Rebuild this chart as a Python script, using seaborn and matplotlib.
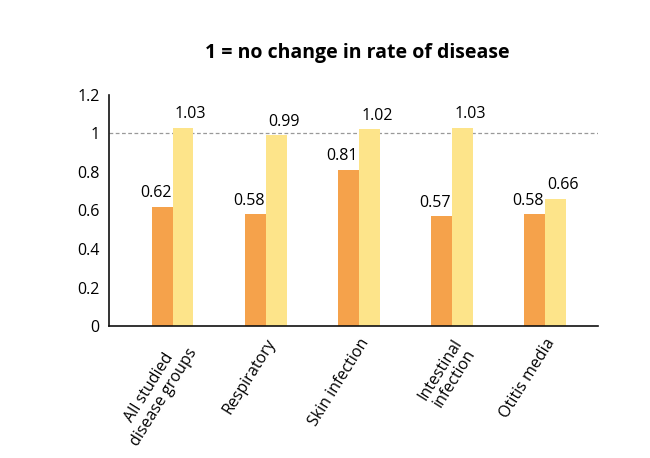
import matplotlib
matplotlib.use("Agg")
import matplotlib.pyplot as plt
import seaborn as sns
import pandas as pd

categories = ["All studied\ndisease groups", "Respiratory", "Skin infection",
              "Intestinal\ninfection", "Otitis media"]
series_a = [0.62, 0.58, 0.81, 0.57, 0.58]
series_b = [1.03, 0.99, 1.02, 1.03, 0.66]
series_names = ["Series A", "Series B"]
y_ticks = [0, 0.2, 0.4, 0.6, 0.8, 1, 1.2]
y_tick_labels = ["0", "0.2", "0.4", "0.6", "0.8", "1", "1.2"]
title = "1 = no change in rate of disease"

df = pd.DataFrame({
    "category": categories * 2,
    "value": series_a + series_b,
    "series": [series_names[0]] * len(categories) + [series_names[1]] * len(categories),
})

sns.set_style("white")
plt.rcParams["font.family"] = ["Open Sans", "DejaVu Sans"]

fig = plt.figure(figsize=(6.5, 4.58), dpi=100)
ax = fig.add_axes([0.168, 0.288, 0.752, 0.505])

sns.barplot(data=df, x="category", y="value", hue="series",
            palette=["#F5A24B", "#FDE48A"], width=0.45, legend=False,
            saturation=1, ax=ax, errorbar=None, linewidth=0)

offsets = [-4.5, 5.5]
for cont, dx in zip(ax.containers, offsets):
    for bar, v in zip(cont.patches, cont.datavalues):
        ax.annotate(f"{v:.2f}", (bar.get_x() + bar.get_width() / 2, bar.get_height()),
                    xytext=(dx, 4), textcoords="offset points", ha="center", va="bottom",
                    fontsize=11.5, color="#000000", fontweight="medium")

ax.axhline(1, color="#999999", linestyle=(0, (3, 2)), linewidth=0.9, zorder=0)

ax.set_ylim(0, 1.2)
ax.set_xlim(-0.68, 4.57)
ax.set_yticks(y_ticks)
ax.set_yticklabels(y_tick_labels, fontsize=11.5, fontweight="medium", color="#000000")
ax.set_xticks(range(len(categories)))
ax.set_xticklabels(categories, rotation=58, ha="right", rotation_mode="anchor",
                   fontsize=11.5, multialignment="center", fontweight="medium",
                   color="#000000", linespacing=1.1)
ax.tick_params(axis="y", length=4, width=1, color="#111111", pad=3)
ax.tick_params(axis="x", length=0, pad=7)
ax.set_xlabel("")
ax.set_ylabel("")
for s in ["top", "right"]:
    ax.spines[s].set_visible(False)
for s in ["left", "bottom"]:
    ax.spines[s].set_color("#111111")
    ax.spines[s].set_linewidth(1.2)

fig.text(0.55, 0.885, title, ha="center", va="center",
         fontsize=14, fontweight="bold", color="#000000")

fig.savefig("out.png", dpi=100, facecolor="white")
